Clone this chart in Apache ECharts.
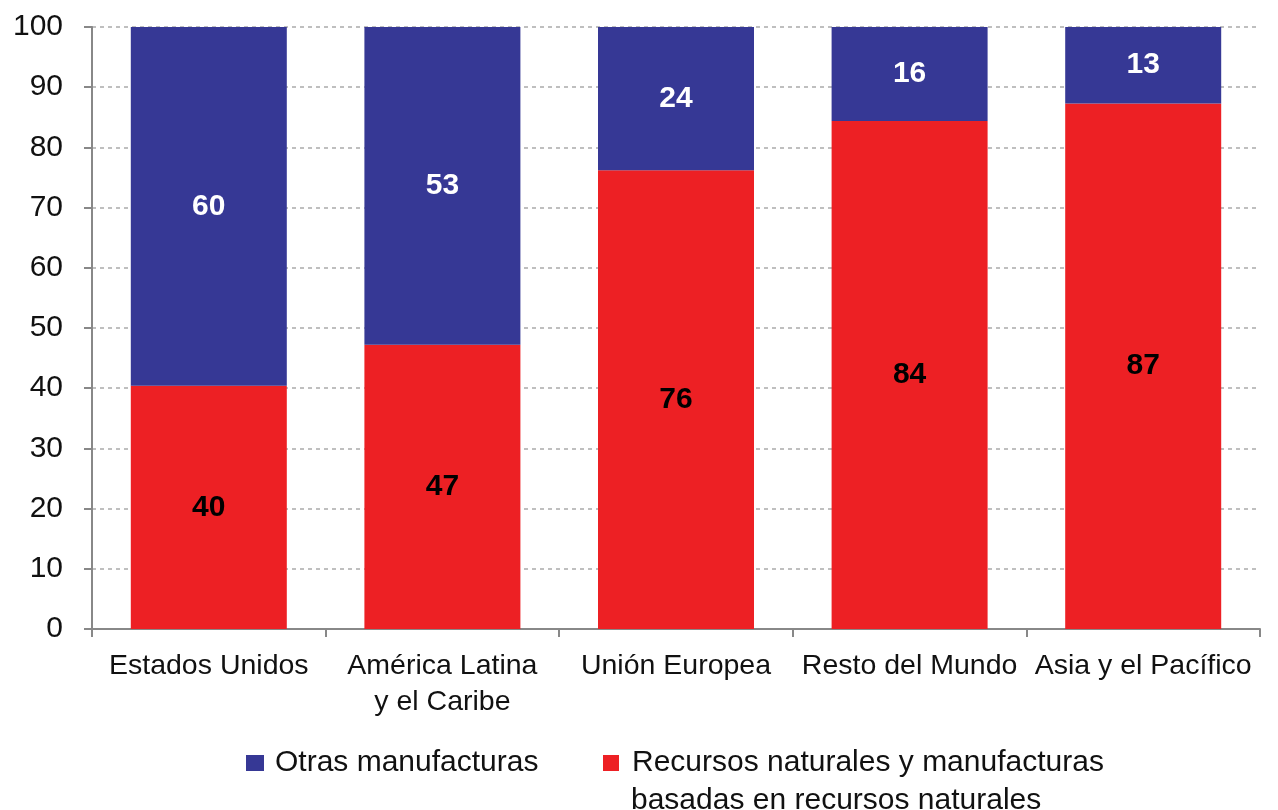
<!DOCTYPE html>
<html><head><meta charset="utf-8">
<script src="https://cdn.jsdelivr.net/npm/echarts@6/dist/echarts.min.js"></script>
<style>html,body{margin:0;padding:0;background:#fff}#c{width:1278px;height:810px}</style>
</head><body><div id="c"></div>
<script>
const categories = ['Estados Unidos', 'América Latina\ny el Caribe', 'Unión Europea', 'Resto del Mundo', 'Asia y el Pacífico'];
const recursos = [40.4, 47.2, 76.2, 84.4, 87.3];
const otras = [59.6, 52.8, 23.8, 15.6, 12.7];
const yTicks = [0, 10, 20, 30, 40, 50, 60, 70, 80, 90, 100];
const nameOtras = 'Otras manufacturas';
const nameRec = 'Recursos naturales y manufacturas basadas en recursos naturales';
const FONT = '"Liberation Sans", Arial, sans-serif';

const chart = echarts.init(document.getElementById('c'));
chart.setOption({
  animation: false,
  textStyle: { fontFamily: FONT },
  grid: { left: 92, right: 18, top: 27, bottom: 181 },
  xAxis: {
    type: 'category', data: categories,
    axisLine: { lineStyle: { color: '#888', width: 2 } },
    axisTick: { show: true, interval: 0, length: 8, lineStyle: { color: '#888', width: 2 } },
    axisLabel: { interval: 0, color: '#111', fontSize: 28.5, margin: 19, lineHeight: 36, fontFamily: FONT }
  },
  yAxis: {
    type: 'value', min: yTicks[0], max: yTicks[yTicks.length - 1], interval: 10,
    axisLine: { show: true, lineStyle: { color: '#888', width: 2 } },
    axisTick: { show: true, length: 8, lineStyle: { color: '#888', width: 2 } },
    axisLabel: { color: '#111', fontSize: 30, margin: 29, fontFamily: FONT },
    splitLine: { lineStyle: { color: '#aaa', type: [4, 4], width: 1.5 } }
  },
  legend: [{
    data: [nameOtras], left: 241, top: 743, itemWidth: 18, itemHeight: 16, itemGap: 10,
    icon: 'rect',
    textStyle: { fontSize: 30, color: '#111', fontFamily: FONT, padding: [0, 0, 0, 6] }
  }, {
    data: [nameRec], left: 598, top: 743, itemWidth: 16, itemHeight: 16,
    icon: 'rect',
    formatter: function () { return 'Recursos naturales y manufacturas'; },
    textStyle: { fontSize: 30, color: '#111', fontFamily: FONT, padding: [0, 0, 0, 8] }
  }],
  graphic: [{
    type: 'text', left: 631, top: 786,
    style: { text: 'basadas en recursos naturales', fontSize: 30, fill: '#111', fontFamily: FONT }
  }],
  series: [{
    name: nameRec, type: 'bar', stack: 'a', data: recursos, barWidth: 156,
    itemStyle: { color: '#ED2024' },
    label: { show: true, position: 'inside', color: '#000', fontWeight: 'bold', fontSize: 30, fontFamily: FONT,
      formatter: p => Math.round(p.value) }
  }, {
    name: nameOtras, type: 'bar', stack: 'a', data: otras, barWidth: 156,
    itemStyle: { color: '#363895' },
    label: { show: true, position: 'inside', color: '#fff', fontWeight: 'bold', fontSize: 30, fontFamily: FONT,
      formatter: p => Math.round(p.value) }
  }]
});
</script></body></html>
